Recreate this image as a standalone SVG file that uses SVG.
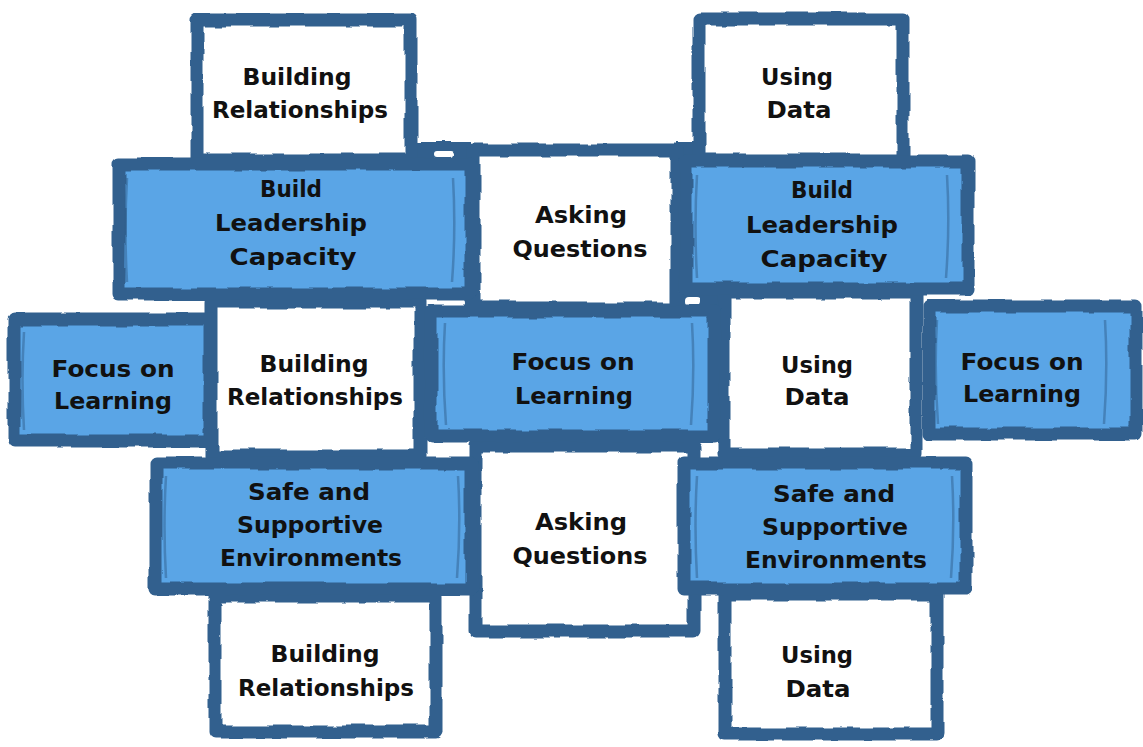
<svg xmlns="http://www.w3.org/2000/svg" width="1143" height="747" viewBox="0 0 1143 747">
  <defs>
    <!-- rough, hand-inked edge for the bricks -->
    <filter id="rough" x="-5%" y="-5%" width="110%" height="110%">
      <feTurbulence type="fractalNoise" baseFrequency="0.035" numOctaves="2" seed="7" result="n"/>
      <feDisplacementMap in="SourceGraphic" in2="n" scale="6" xChannelSelector="R" yChannelSelector="G"/>
    </filter>
    <style>
      .w{fill:#ffffff;stroke:#30608e;stroke-width:13;stroke-linejoin:round}
      .b{fill:#5aa5e6;stroke:#30608e;stroke-width:13;stroke-linejoin:round}
      .m{fill:#30608e}
      .hole{fill:#ffffff}
      .curl{stroke:#30608e;stroke-width:2.5;opacity:.5;fill:none}
      .t{font-family:"DejaVu Sans","Liberation Sans",sans-serif;font-weight:bold;font-size:23px;fill:#111111;text-anchor:middle}
    </style>
  </defs>
  <rect width="1143" height="747" fill="#ffffff"/>

  <!-- dark mortar between bricks -->
  <g id="mortar" filter="url(#rough)">
    <rect class="m" x="410" y="142" width="62" height="20"/>
    <rect class="m" x="678" y="142" width="22" height="20"/>
    <rect class="m" x="418" y="294" width="60" height="18"/>
    <rect class="m" x="676" y="288" width="48" height="24"/>
    <rect class="hole" x="435" y="151" width="20" height="6" rx="3"/>
    <rect class="hole" x="425" y="299" width="40" height="8" rx="4"/>
    <rect class="hole" x="685" y="297" width="16" height="9" rx="4"/>
  </g>

  <!-- white bricks -->
  <g id="building-relationships-top">
    <rect class="w" x="197" y="20" width="214" height="140" filter="url(#rough)"/>
    <text class="t" x="297" y="85" textLength="109" lengthAdjust="spacingAndGlyphs">Building</text>
    <text class="t" x="300" y="118" textLength="176" lengthAdjust="spacingAndGlyphs">Relationships</text>
  </g>
  <g id="using-data-top">
    <rect class="w" x="699" y="19" width="204" height="141" filter="url(#rough)"/>
    <text class="t" x="797" y="85" textLength="72" lengthAdjust="spacingAndGlyphs">Using</text>
    <text class="t" x="799" y="118" textLength="65" lengthAdjust="spacingAndGlyphs">Data</text>
  </g>
  <g id="asking-questions-top">
    <rect class="w" x="474" y="150" width="203" height="158" filter="url(#rough)"/>
    <text class="t" x="581" y="223" textLength="92" lengthAdjust="spacingAndGlyphs">Asking</text>
    <text class="t" x="580" y="257" textLength="135" lengthAdjust="spacingAndGlyphs">Questions</text>
  </g>
  <g id="building-relationships-mid">
    <rect class="w" x="211" y="302" width="209" height="154" filter="url(#rough)"/>
    <text class="t" x="314" y="372" textLength="109" lengthAdjust="spacingAndGlyphs">Building</text>
    <text class="t" x="315" y="405" textLength="176" lengthAdjust="spacingAndGlyphs">Relationships</text>
  </g>
  <g id="using-data-mid">
    <rect class="w" x="724" y="292" width="192" height="162" filter="url(#rough)"/>
    <text class="t" x="817" y="373" textLength="72" lengthAdjust="spacingAndGlyphs">Using</text>
    <text class="t" x="817" y="405" textLength="65" lengthAdjust="spacingAndGlyphs">Data</text>
  </g>
  <g id="asking-questions-bottom">
    <rect class="w" x="475" y="446" width="219" height="185" filter="url(#rough)"/>
    <text class="t" x="581" y="530" textLength="92" lengthAdjust="spacingAndGlyphs">Asking</text>
    <text class="t" x="580" y="564" textLength="135" lengthAdjust="spacingAndGlyphs">Questions</text>
  </g>
  <g id="building-relationships-bottom">
    <rect class="w" x="215" y="596" width="221" height="136" filter="url(#rough)"/>
    <text class="t" x="325" y="662" textLength="109" lengthAdjust="spacingAndGlyphs">Building</text>
    <text class="t" x="326" y="696" textLength="176" lengthAdjust="spacingAndGlyphs">Relationships</text>
  </g>
  <g id="using-data-bottom">
    <rect class="w" x="725" y="594" width="212" height="140" filter="url(#rough)"/>
    <text class="t" x="817" y="663" textLength="72" lengthAdjust="spacingAndGlyphs">Using</text>
    <text class="t" x="818" y="697" textLength="65" lengthAdjust="spacingAndGlyphs">Data</text>
  </g>

  <!-- blue bricks -->
  <g id="build-leadership-left">
    <rect class="b" x="119" y="164" width="352" height="130" filter="url(#rough)"/>
    <path class="curl" d="M127 178 Q124 230 127 282 M453 178 Q456 230 452 282"/>
    <text class="t" x="291" y="197" textLength="62" lengthAdjust="spacingAndGlyphs">Build</text>
    <text class="t" x="291" y="231" textLength="152" lengthAdjust="spacingAndGlyphs">Leadership</text>
    <text class="t" x="293" y="265" textLength="127" lengthAdjust="spacingAndGlyphs">Capacity</text>
  </g>
  <g id="build-leadership-right">
    <rect class="b" x="686" y="161" width="282" height="128" filter="url(#rough)"/>
    <path class="curl" d="M697 175 Q694 225 697 278 M947 175 Q950 225 946 278"/>
    <text class="t" x="822" y="198" textLength="62" lengthAdjust="spacingAndGlyphs">Build</text>
    <text class="t" x="822" y="233" textLength="152" lengthAdjust="spacingAndGlyphs">Leadership</text>
    <text class="t" x="824" y="267" textLength="127" lengthAdjust="spacingAndGlyphs">Capacity</text>
  </g>
  <g id="focus-learning-left">
    <rect class="b" x="14" y="319" width="196" height="122" filter="url(#rough)"/>
    <path class="curl" d="M24 332 Q21 380 24 430"/>
    <text class="t" x="113" y="377" textLength="123" lengthAdjust="spacingAndGlyphs">Focus on</text>
    <text class="t" x="113" y="409" textLength="118" lengthAdjust="spacingAndGlyphs">Learning</text>
  </g>
  <g id="focus-learning-center">
    <rect class="b" x="431" y="311" width="283" height="125" filter="url(#rough)"/>
    <path class="curl" d="M445 323 Q442 372 446 425 M692 323 Q695 372 691 425"/>
    <text class="t" x="573" y="370" textLength="123" lengthAdjust="spacingAndGlyphs">Focus on</text>
    <text class="t" x="574" y="404" textLength="118" lengthAdjust="spacingAndGlyphs">Learning</text>
  </g>
  <g id="focus-learning-right">
    <rect class="b" x="929" y="306" width="207" height="128" filter="url(#rough)"/>
    <path class="curl" d="M937 320 Q934 370 938 424 M1105 320 Q1108 370 1104 424"/>
    <text class="t" x="1022" y="370" textLength="123" lengthAdjust="spacingAndGlyphs">Focus on</text>
    <text class="t" x="1022" y="402" textLength="118" lengthAdjust="spacingAndGlyphs">Learning</text>
  </g>
  <g id="safe-supportive-left">
    <rect class="b" x="156" y="463" width="315" height="126" filter="url(#rough)"/>
    <path class="curl" d="M166 476 Q163 525 166 578 M458 476 Q461 525 457 578"/>
    <text class="t" x="309" y="500" textLength="122" lengthAdjust="spacingAndGlyphs">Safe and</text>
    <text class="t" x="310" y="533" textLength="146" lengthAdjust="spacingAndGlyphs">Supportive</text>
    <text class="t" x="311" y="566" textLength="182" lengthAdjust="spacingAndGlyphs">Environments</text>
  </g>
  <g id="safe-supportive-right">
    <rect class="b" x="684" y="463" width="282" height="126" filter="url(#rough)"/>
    <path class="curl" d="M697 476 Q694 525 697 578 M952 476 Q955 525 951 578"/>
    <text class="t" x="834" y="502" textLength="122" lengthAdjust="spacingAndGlyphs">Safe and</text>
    <text class="t" x="835" y="535" textLength="146" lengthAdjust="spacingAndGlyphs">Supportive</text>
    <text class="t" x="836" y="568" textLength="182" lengthAdjust="spacingAndGlyphs">Environments</text>
  </g>
</svg>
